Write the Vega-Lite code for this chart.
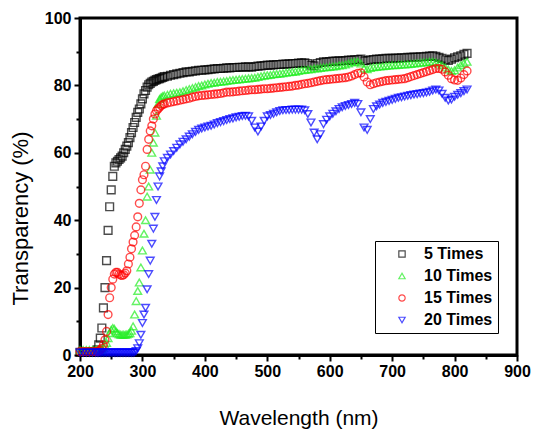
{
"$schema": "https://vega.github.io/schema/vega-lite/v6.json",
"width": 437, "height": 337,
"autosize": "none",
"padding": {"left": 80, "top": 18, "right": 16, "bottom": 74},
"background": "white",
"view": {"stroke": "#000000", "strokeWidth": 3, "strokeOpacity": 1},
"config": {
  "font": "Liberation Sans",
  "axis": {"domainColor": "#000000", "domainWidth": 3, "domainOpacity": 1, "tickColor": "#000000", "tickWidth": 2, "tickOpacity": 1, "grid": false, "labelFlush": false,
    "labelFont": "Liberation Sans", "labelFontWeight": "bold", "labelFontSize": 16, "labelColor": "black",
    "titleFont": "Liberation Sans", "titleFontWeight": "normal", "titleFontSize": 21, "titleColor": "black"}
},
"data": {"values": [
{"w":200,"a":0.8,"b":1.5,"c":1,"d":0.7},
{"w":205,"a":0.8,"b":1.5,"c":1,"d":0.7},
{"w":210,"a":0.8,"b":1.5,"c":1,"d":0.7},
{"w":215,"a":0.8,"b":1.5,"c":1,"d":0.7},
{"w":220,"a":1,"b":1.5,"c":1,"d":0.7},
{"w":225,"a":1,"b":1.5,"c":1,"d":0.7},
{"w":227.5,"a":1.5,"b":1.5,"c":1,"d":0.7},
{"w":230,"a":3,"b":1.5,"c":1.2,"d":0.7},
{"w":232.5,"a":5,"b":1.5,"c":1.5,"d":0.7},
{"w":235,"a":8,"b":1.8,"c":2,"d":0.7},
{"w":237.5,"a":14,"b":2.2,"c":3,"d":0.7},
{"w":240,"a":20,"b":2.8,"c":4.5,"d":0.7},
{"w":242.5,"a":28,"b":3.6,"c":7,"d":0.7},
{"w":245,"a":37,"b":5,"c":12,"d":0.7},
{"w":247.5,"a":44,"b":6.5,"c":17,"d":0.7},
{"w":250,"a":49,"b":7.5,"c":20,"d":0.7},
{"w":252.5,"a":53,"b":8,"c":22.5,"d":0.7},
{"w":255,"a":56,"b":7.8,"c":24,"d":0.7},
{"w":257.5,"a":57,"b":7,"c":24.5,"d":0.7},
{"w":260,"a":57.5,"b":6.5,"c":24.5,"d":0.7},
{"w":262.5,"a":58,"b":6.2,"c":24,"d":0.7},
{"w":265,"a":58.5,"b":6,"c":23.7,"d":0.7},
{"w":267.5,"a":59,"b":6,"c":23.6,"d":0.7},
{"w":270,"a":60,"b":6,"c":23.8,"d":0.7},
{"w":272.5,"a":61,"b":6,"c":24.3,"d":0.7},
{"w":275,"a":62,"b":6.1,"c":25,"d":0.7},
{"w":277.5,"a":63,"b":6.3,"c":27,"d":0.7},
{"w":280,"a":64.5,"b":6.5,"c":29,"d":0.7},
{"w":282.5,"a":66,"b":7.2,"c":31.5,"d":0.7},
{"w":285,"a":67.5,"b":8.5,"c":33.5,"d":0.7},
{"w":287.5,"a":69,"b":12,"c":35.5,"d":0.8},
{"w":290,"a":70.5,"b":16,"c":38,"d":1.2},
{"w":292.5,"a":72,"b":19,"c":41,"d":2},
{"w":295,"a":73,"b":21.5,"c":45,"d":3.5},
{"w":297.5,"a":74.5,"b":26,"c":49,"d":6},
{"w":300,"a":76,"b":31,"c":52,"d":9.5},
{"w":302.5,"a":77.5,"b":36,"c":53.5,"d":12},
{"w":305,"a":78.5,"b":40,"c":56,"d":14},
{"w":307.5,"a":79.5,"b":47,"c":61,"d":19.5},
{"w":310,"a":80.2,"b":50,"c":64,"d":24},
{"w":312.5,"a":80.6,"b":55,"c":66.5,"d":28},
{"w":315,"a":81,"b":60,"c":68,"d":33},
{"w":317.5,"a":81.2,"b":63,"c":70,"d":37.5},
{"w":320,"a":81.5,"b":66,"c":71.5,"d":41},
{"w":322.5,"a":81.7,"b":71,"c":72.5,"d":46},
{"w":325,"a":81.9,"b":74.5,"c":73,"d":50},
{"w":327.5,"a":82,"b":76,"c":73.5,"d":53},
{"w":330,"a":82.2,"b":76.5,"c":74,"d":54.5},
{"w":332.5,"a":82.4,"b":76.8,"c":74.3,"d":56},
{"w":335,"a":82.6,"b":77,"c":74.5,"d":57.5},
{"w":340,"a":82.7,"b":77.2,"c":74.8,"d":58.5},
{"w":345,"a":83,"b":77.5,"c":75,"d":59.5},
{"w":350,"a":83.2,"b":77.7,"c":75.2,"d":60.5},
{"w":355,"a":83.4,"b":77.8,"c":75.4,"d":61.5},
{"w":360,"a":83.6,"b":78,"c":75.6,"d":62.5},
{"w":365,"a":83.8,"b":78.3,"c":75.8,"d":63.3},
{"w":370,"a":84,"b":78.6,"c":76,"d":64},
{"w":375,"a":84,"b":78.9,"c":76.2,"d":64.8},
{"w":380,"a":84.2,"b":79.2,"c":76.5,"d":65.5},
{"w":385,"a":84.3,"b":79.5,"c":76.7,"d":66.2},
{"w":390,"a":84.5,"b":79.8,"c":76.9,"d":66.8},
{"w":395,"a":84.5,"b":80,"c":77,"d":67.2},
{"w":400,"a":84.6,"b":80.3,"c":77.1,"d":67.5},
{"w":405,"a":84.7,"b":80.5,"c":77.2,"d":67.8},
{"w":410,"a":84.8,"b":80.7,"c":77.3,"d":68},
{"w":415,"a":84.9,"b":80.8,"c":77.4,"d":68.4},
{"w":420,"a":85,"b":81,"c":77.5,"d":68.8},
{"w":425,"a":85,"b":81.1,"c":77.6,"d":69.1},
{"w":430,"a":85.1,"b":81.2,"c":77.8,"d":69.4},
{"w":435,"a":85.2,"b":81.3,"c":78,"d":69.7},
{"w":440,"a":85.2,"b":81.5,"c":78,"d":70},
{"w":445,"a":85.3,"b":81.6,"c":78.1,"d":70.2},
{"w":450,"a":85.3,"b":81.7,"c":78.2,"d":70.5},
{"w":455,"a":85.4,"b":81.8,"c":78.3,"d":70.7},
{"w":460,"a":85.4,"b":81.9,"c":78.4,"d":70.9},
{"w":465,"a":85.5,"b":82,"c":78.5,"d":71},
{"w":470,"a":85.5,"b":82.1,"c":78.6,"d":70.8},
{"w":475,"a":85.4,"b":82.2,"c":78.7,"d":69.5},
{"w":480,"a":85.6,"b":82.3,"c":78.7,"d":67.5},
{"w":485,"a":85.7,"b":82.5,"c":78.8,"d":66.3},
{"w":490,"a":85.8,"b":82.7,"c":78.9,"d":67.8},
{"w":495,"a":85.9,"b":82.9,"c":79,"d":69.5},
{"w":500,"a":86,"b":83,"c":79,"d":70.8},
{"w":505,"a":86,"b":83.1,"c":79.1,"d":71.2},
{"w":510,"a":86.1,"b":83.3,"c":79.2,"d":71.6},
{"w":515,"a":86.2,"b":83.4,"c":79.3,"d":72},
{"w":520,"a":86.2,"b":83.5,"c":79.4,"d":72.4},
{"w":525,"a":86.3,"b":83.6,"c":79.5,"d":72.6},
{"w":530,"a":86.3,"b":83.8,"c":79.6,"d":72.7},
{"w":535,"a":86.4,"b":83.9,"c":79.7,"d":72.7},
{"w":540,"a":86.5,"b":84,"c":79.8,"d":72.8},
{"w":545,"a":86.5,"b":84.1,"c":80,"d":72.8},
{"w":550,"a":86.6,"b":84.3,"c":80.1,"d":72.8},
{"w":555,"a":86.7,"b":84.5,"c":80.3,"d":72.8},
{"w":560,"a":86.7,"b":84.6,"c":80.5,"d":72.6},
{"w":565,"a":86.5,"b":84.7,"c":80.6,"d":71.5},
{"w":570,"a":86,"b":84.8,"c":80.8,"d":69},
{"w":575,"a":85.8,"b":85,"c":81,"d":66},
{"w":580,"a":86.5,"b":85,"c":81.2,"d":64},
{"w":585,"a":86.8,"b":85.2,"c":81.4,"d":65.5},
{"w":590,"a":87,"b":85.3,"c":81.6,"d":68.5},
{"w":595,"a":87,"b":85.4,"c":81.7,"d":69.8},
{"w":600,"a":87.1,"b":85.5,"c":81.8,"d":70.8},
{"w":605,"a":87.2,"b":85.6,"c":81.9,"d":71.6},
{"w":610,"a":87.2,"b":85.7,"c":82,"d":72.3},
{"w":615,"a":87.3,"b":85.9,"c":82.1,"d":73},
{"w":620,"a":87.3,"b":86,"c":82.2,"d":73.5},
{"w":625,"a":87.4,"b":86.2,"c":82.3,"d":73.9},
{"w":630,"a":87.5,"b":86.5,"c":82.5,"d":74.2},
{"w":635,"a":87.5,"b":86.8,"c":82.8,"d":74.5},
{"w":640,"a":87.6,"b":87,"c":83.2,"d":74.8},
{"w":645,"a":87.7,"b":87,"c":83.6,"d":74.5},
{"w":650,"a":87.8,"b":86.5,"c":83.7,"d":72},
{"w":655,"a":87.3,"b":85,"c":82.5,"d":67.5},
{"w":660,"a":87.4,"b":84.8,"c":81,"d":66.8},
{"w":665,"a":87.6,"b":85.2,"c":80.2,"d":70},
{"w":670,"a":87.7,"b":85.4,"c":80.5,"d":73},
{"w":675,"a":87.8,"b":85.5,"c":80.8,"d":73.8},
{"w":680,"a":87.8,"b":85.6,"c":81,"d":74.3},
{"w":685,"a":87.9,"b":85.7,"c":81.2,"d":74.8},
{"w":690,"a":88,"b":85.8,"c":81.4,"d":75.1},
{"w":695,"a":88,"b":85.9,"c":81.5,"d":75.4},
{"w":700,"a":88,"b":86,"c":81.6,"d":75.7},
{"w":705,"a":88.1,"b":86,"c":81.7,"d":76},
{"w":710,"a":88.1,"b":86.1,"c":81.8,"d":76.3},
{"w":715,"a":88.2,"b":86.2,"c":81.9,"d":76.5},
{"w":720,"a":88.2,"b":86.2,"c":82,"d":76.7},
{"w":725,"a":88.3,"b":86.3,"c":82.3,"d":76.9},
{"w":730,"a":88.3,"b":86.4,"c":82.6,"d":77.1},
{"w":735,"a":88.4,"b":86.5,"c":82.9,"d":77.3},
{"w":740,"a":88.4,"b":86.6,"c":83.2,"d":77.4},
{"w":745,"a":88.5,"b":86.7,"c":83.5,"d":77.6},
{"w":750,"a":88.5,"b":86.8,"c":83.8,"d":77.7},
{"w":755,"a":88.6,"b":86.9,"c":84.1,"d":77.9},
{"w":760,"a":88.7,"b":87,"c":84.4,"d":78.1},
{"w":765,"a":88.8,"b":87,"c":84.7,"d":78.5},
{"w":770,"a":88.6,"b":86.8,"c":85,"d":78.8},
{"w":775,"a":88.3,"b":86.5,"c":85,"d":78.5},
{"w":780,"a":88,"b":86,"c":84.8,"d":77.5},
{"w":785,"a":87.6,"b":85.3,"c":84,"d":76.3},
{"w":790,"a":87.4,"b":84.7,"c":83,"d":75.5},
{"w":795,"a":87.8,"b":84.3,"c":82,"d":75.8},
{"w":800,"a":88.2,"b":84.5,"c":81.6,"d":76.6},
{"w":805,"a":88.5,"b":85.3,"c":81.5,"d":77.2},
{"w":810,"a":88.8,"b":86,"c":82.2,"d":77.7},
{"w":815,"a":89.2,"b":86.6,"c":83.2,"d":78.3},
{"w":820,"a":89.5,"b":87,"c":84.3,"d":78.8}
]},
"transform": [{"fold": ["a", "b", "c", "d"], "as": ["s", "t"]}],
"mark": {"type": "point", "filled": false, "strokeWidth": 1.4, "size": 60},
"encoding": {
  "x": {"field": "w", "type": "quantitative", "scale": {"domain": [200, 900], "nice": false},
    "axis": {"orient": "bottom", "values": [200, 250, 300, 350, 400, 450, 500, 550, 600, 650, 700, 750, 800, 850, 900],
      "labelExpr": "datum.value % 100 === 0 ? datum.label : ''",
      "tickSize": {"condition": {"test": "datum.value % 100 === 0", "value": 6}, "value": 4},
      "domainWidth": 3, "title": "Wavelength (nm)", "labelPadding": 2, "titlePadding": 28}},
  "y": {"field": "t", "type": "quantitative", "scale": {"domain": [0, 100], "nice": false},
    "axis": {"orient": "left", "values": [0, 10, 20, 30, 40, 50, 60, 70, 80, 90, 100],
      "labelExpr": "datum.value % 20 === 0 ? datum.label : ''",
      "tickSize": {"condition": {"test": "datum.value % 20 === 0", "value": 6}, "value": 4},
      "domainWidth": 3, "title": "Transparency (%)", "titleFontSize": 22, "labelPadding": 3, "titleX": -48, "titleY": 200}},
  "color": {"field": "s", "type": "nominal",
    "scale": {"domain": ["a", "b", "c", "d"], "range": ["#000000", "#22ee22", "#ff0000", "#0000ff"]},
    "legend": {"title": null, "orient": "none", "legendX": 295, "legendY": 223, "strokeColor": "black",
      "fillColor": "white", "padding": 5, "symbolOffset": 14, "labelOffset": 14, "labelFontSize": 16,
      "labelFontWeight": "bold", "labelFont": "Liberation Sans", "labelColor": "black", "symbolSize": 40,
      "symbolStrokeWidth": 1.2, "rowPadding": 6,
      "labelExpr": "datum.label == 'a' ? '5 Times' : datum.label == 'b' ? '10 Times' : datum.label == 'c' ? '15 Times' : '20 Times'"}},
  "shape": {"field": "s", "type": "nominal",
    "scale": {"domain": ["a", "b", "c", "d"], "range": ["square", "triangle-up", "circle", "triangle-down"]},
    "legend": {"title": null, "orient": "none", "legendX": 295, "legendY": 223, "strokeColor": "black",
      "fillColor": "white", "padding": 5, "symbolOffset": 14, "labelOffset": 14, "labelFontSize": 16,
      "labelFontWeight": "bold", "labelFont": "Liberation Sans", "labelColor": "black", "symbolSize": 40,
      "symbolStrokeWidth": 1.2, "rowPadding": 6,
      "labelExpr": "datum.label == 'a' ? '5 Times' : datum.label == 'b' ? '10 Times' : datum.label == 'c' ? '15 Times' : '20 Times'"}},
  "order": {"field": "s", "type": "ordinal"}
}
}
